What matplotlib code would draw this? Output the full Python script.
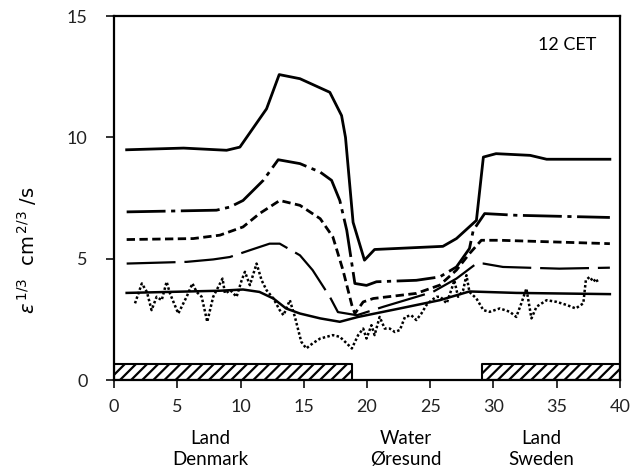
import matplotlib
matplotlib.use("Agg")
import matplotlib.pyplot as plt
import matplotlib.transforms as mtransforms

plt.rcParams['font.family'] = ['Lato', 'DejaVu Sans']
plt.rcParams['mathtext.fontset'] = 'dejavusans'
plt.rcParams['hatch.linewidth'] = 1.6

# ---------------- data ----------------
# solid top curve
xa = [1.0, 5.5, 8.9, 9.95, 12.06, 13.06, 14.7, 17.06, 17.99, 18.3, 18.9, 19.8, 20.6, 26.0, 27.07, 28.65, 29.2, 30.2, 32.9, 34.2, 39.2]
ya = [9.49, 9.56, 9.47, 9.6, 11.18, 12.59, 12.42, 11.86, 10.9, 10.0, 6.5, 4.94, 5.38, 5.51, 5.83, 6.58, 9.19, 9.33, 9.26, 9.1, 9.1]

# dash-dot curve
xb = [1.0, 8.1, 9.16, 10.2, 11.8, 12.98, 14.7, 16.3, 17.2, 17.85, 18.4, 19.04, 19.96, 20.75, 23.9, 25.75, 27.07, 28.1, 28.4, 29.3, 31.8, 39.2]
yb = [6.93, 7.0, 7.13, 7.4, 8.23, 9.08, 8.92, 8.57, 8.23, 7.4, 6.17, 3.98, 3.9, 4.05, 4.11, 4.25, 4.66, 5.42, 6.17, 6.86, 6.79, 6.7]

# short-dash curve
xc = [1.0, 6.26, 8.37, 10.2, 11.5, 13.1, 14.7, 16.3, 17.3, 18.1, 18.8, 19.04, 19.7, 20.5, 23.9, 25.75, 27.07, 28.1, 29.04, 30.5, 39.2]
yc = [5.79, 5.83, 5.97, 6.31, 6.86, 7.4, 7.2, 6.65, 5.9, 4.53, 3.09, 2.74, 3.22, 3.36, 3.57, 3.91, 4.53, 5.21, 5.76, 5.76, 5.62]

# long-dash curve
xd = [1.0, 5.74, 7.84, 9.16, 10.74, 12.3, 13.1, 14.7, 15.7, 17.06, 17.7, 19.2, 21.3, 25.2, 27.07, 28.65, 29.2, 30.75, 35.2, 39.2]
yd = [4.8, 4.87, 4.97, 5.07, 5.35, 5.62, 5.62, 5.14, 4.53, 3.43, 2.8, 2.67, 3.02, 3.63, 4.18, 4.8, 4.8, 4.66, 4.59, 4.63]

# smooth solid lower curve
xe = [1.0, 8.37, 10.2, 11.5, 12.6, 13.6, 14.7, 16.3, 17.85, 19.3, 22.6, 25.75, 28.1, 31.8, 39.2]
ye = [3.59, 3.68, 3.73, 3.63, 3.36, 2.95, 2.74, 2.54, 2.4, 2.6, 2.95, 3.29, 3.65, 3.59, 3.54]

# dotted noisy curve
xf = [1.66, 2.2, 2.6, 2.97, 3.37, 3.77, 4.16, 4.42, 5.08, 5.74, 6.2, 6.53, 6.93, 7.37, 7.84, 8.58, 8.77, 9.2,
      9.69, 10.09, 10.35, 10.74, 11.27, 11.67, 12.06, 12.6, 13.1, 13.4, 13.9, 14.3, 14.8, 15.2, 15.7, 16.3,
      17.3, 17.85, 18.4, 18.8, 19.3, 19.7, 19.96, 20.35, 20.6, 21.0, 21.4, 21.8, 22.2, 22.6, 23.0, 23.5,
      23.9, 24.3, 24.7, 25.1, 25.5, 25.8, 26.3, 26.7, 26.9, 27.2, 27.6, 27.86, 28.1, 28.65, 29.2, 29.7,
      30.5, 31.3, 31.8, 32.2, 32.6, 33.0, 33.4, 34.2, 35.0, 35.8, 36.5, 37.1, 37.3, 37.6, 37.9, 38.1, 38.3]
yf = [3.16, 3.98, 3.63, 2.88, 3.43, 3.29, 4.05, 3.57, 2.74, 3.43, 3.98, 3.63, 3.43, 2.4, 3.43, 4.18, 3.57, 3.7,
      3.43, 4.11, 4.46, 3.91, 4.8, 4.11, 3.7, 3.36, 2.88, 2.67, 3.29, 2.6, 1.58, 1.3, 1.51, 1.71,
      1.85, 1.78, 1.51, 1.3, 1.85, 2.12, 1.71, 2.26, 1.85, 2.6, 2.12, 2.12, 1.98, 2.06, 2.6, 2.67,
      2.47, 2.74, 3.09, 3.29, 3.43, 3.43, 3.16, 3.77, 4.11, 3.43, 3.7, 4.32, 3.63, 3.36, 2.88, 2.81,
      2.95, 2.81, 2.6, 3.16, 3.77, 2.54, 3.02, 3.29, 3.22, 3.09, 2.95, 3.16, 4.11, 4.25, 4.05, 4.18, 3.98]

# land segments (start, length)
land_start = [0.0, 29.1]
land_len = [18.8, 10.9]
land_height = 0.65

region_labels = ['Land\nDenmark', 'Water\nØresund', 'Land\nSweden']
region_x = [7.6, 23.1, 33.8]

xticks = [0, 5, 10, 15, 20, 25, 30, 35, 40]
yticks = [0, 5, 10, 15]

# ---------------- plot ----------------
fig = plt.figure(figsize=(6.32, 4.74), dpi=100)
ax = fig.add_axes([0.1804, 0.1983, 0.8006, 0.7677])

ax.plot(xa, ya, color='black', lw=2.0, solid_joinstyle='round')
ax.plot(xb, yb, color='black', lw=2.0, linestyle=(0, (14, 2, 1.5, 2)))
ax.plot(xc, yc, color='black', lw=2.0, linestyle=(0, (3, 1.6)))
ax.plot(xd, yd, color='black', lw=1.6, linestyle=(0, (22, 4)))
ax.plot(xe, ye, color='black', lw=1.8)
ax.plot(xf, yf, color='black', lw=1.8, linestyle=(0, (1, 0.9)))

ax.broken_barh(list(zip(land_start, land_len)), (0, land_height),
               facecolor='white', edgecolor='black', hatch='///', linewidth=1.5)

ax.set_xlim(0, 40)
ax.set_ylim(0, 15)
ax.set_xticks(xticks)
ax.set_yticks(yticks)
ax.tick_params(axis='both', direction='out', length=6, width=1.3, labelsize=13, colors='#222222')
ax.tick_params(axis='x', pad=8)
ax.tick_params(axis='y', pad=13)
for s in ax.spines.values():
    s.set_linewidth(1.6)

ax.text(38.1, 13.8, '12 CET', ha='right', va='center', fontsize=13)

ax.text(-0.172, 0.357, r'$ε^{\,1/3}\ \ \mathrm{cm}^{\,2/3}\ /\mathrm{s}$', transform=ax.transAxes,
        rotation=90, ha='center', va='center', fontsize=14)

trans = mtransforms.blended_transform_factory(ax.transData, fig.transFigure)
for lab, xp in zip(region_labels, region_x):
    ax.text(xp, 1 - 449 / 474, lab, transform=trans, ha='center', va='center',
            fontsize=13.5, linespacing=1.35)

fig.savefig('out.png', dpi=100)
